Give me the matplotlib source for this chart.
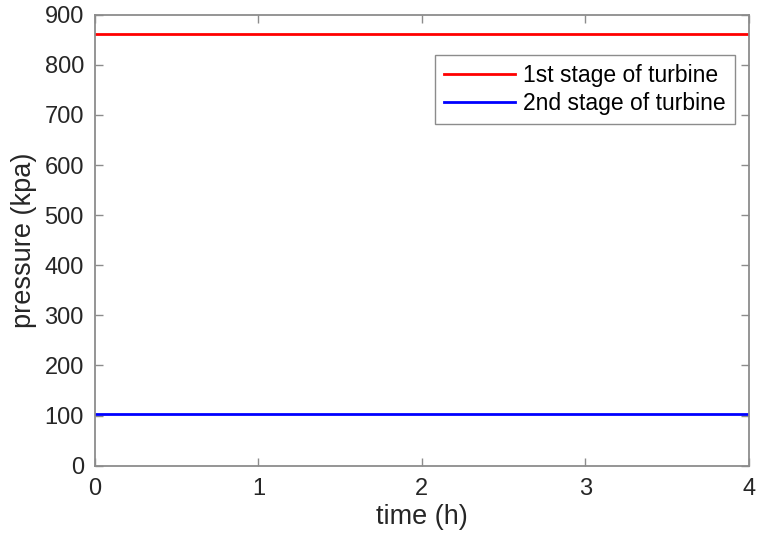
import numpy as np
import matplotlib.pyplot as plt

plt.rcParams['font.family'] = ['Liberation Sans', 'DejaVu Sans']

time_h = [0, 1, 2, 3, 4]
p_stage1 = [862, 862, 862, 862, 862]
p_stage2 = [103, 103, 103, 103, 103]

fig = plt.figure(figsize=(7.57, 5.42), dpi=100)
ax = fig.add_axes([0.1255, 0.1408, 0.8635, 0.8321])

ax.plot(time_h, p_stage1, color='#ff0000', lw=2, label='1st stage of turbine')
ax.plot(time_h, p_stage2, color='#0000ff', lw=2, label='2nd stage of turbine')

ax.set_xlim(0, 4)
ax.set_ylim(0, 900)
ax.set_xticks(np.arange(0, 5, 1))
ax.set_yticks(np.arange(0, 1000, 100))

edge = '#8c8c8c'
for s in ax.spines.values():
    s.set_color(edge)
    s.set_linewidth(1.3)
ax.tick_params(direction='in', top=True, right=True, length=6, width=1,
               color=edge, labelsize=17, labelcolor='#262626')
ax.tick_params(axis='x', pad=9)
ax.tick_params(axis='y', pad=8)

ax.set_xlabel('time (h)', fontsize=19.5, color='#262626', labelpad=3)
ax.set_ylabel('pressure (kpa)', fontsize=19.5, color='#262626', labelpad=5)

leg = ax.legend(loc='upper right', bbox_to_anchor=(0.9786, 0.9106), fontsize=16.5,
                fancybox=False, framealpha=1, borderpad=0.4, borderaxespad=0,
                handlelength=3.1, labelspacing=0.2, handletextpad=0.35)
leg.get_frame().set_edgecolor(edge)
leg.get_frame().set_linewidth(1)

fig.savefig('out.png', dpi=100)
